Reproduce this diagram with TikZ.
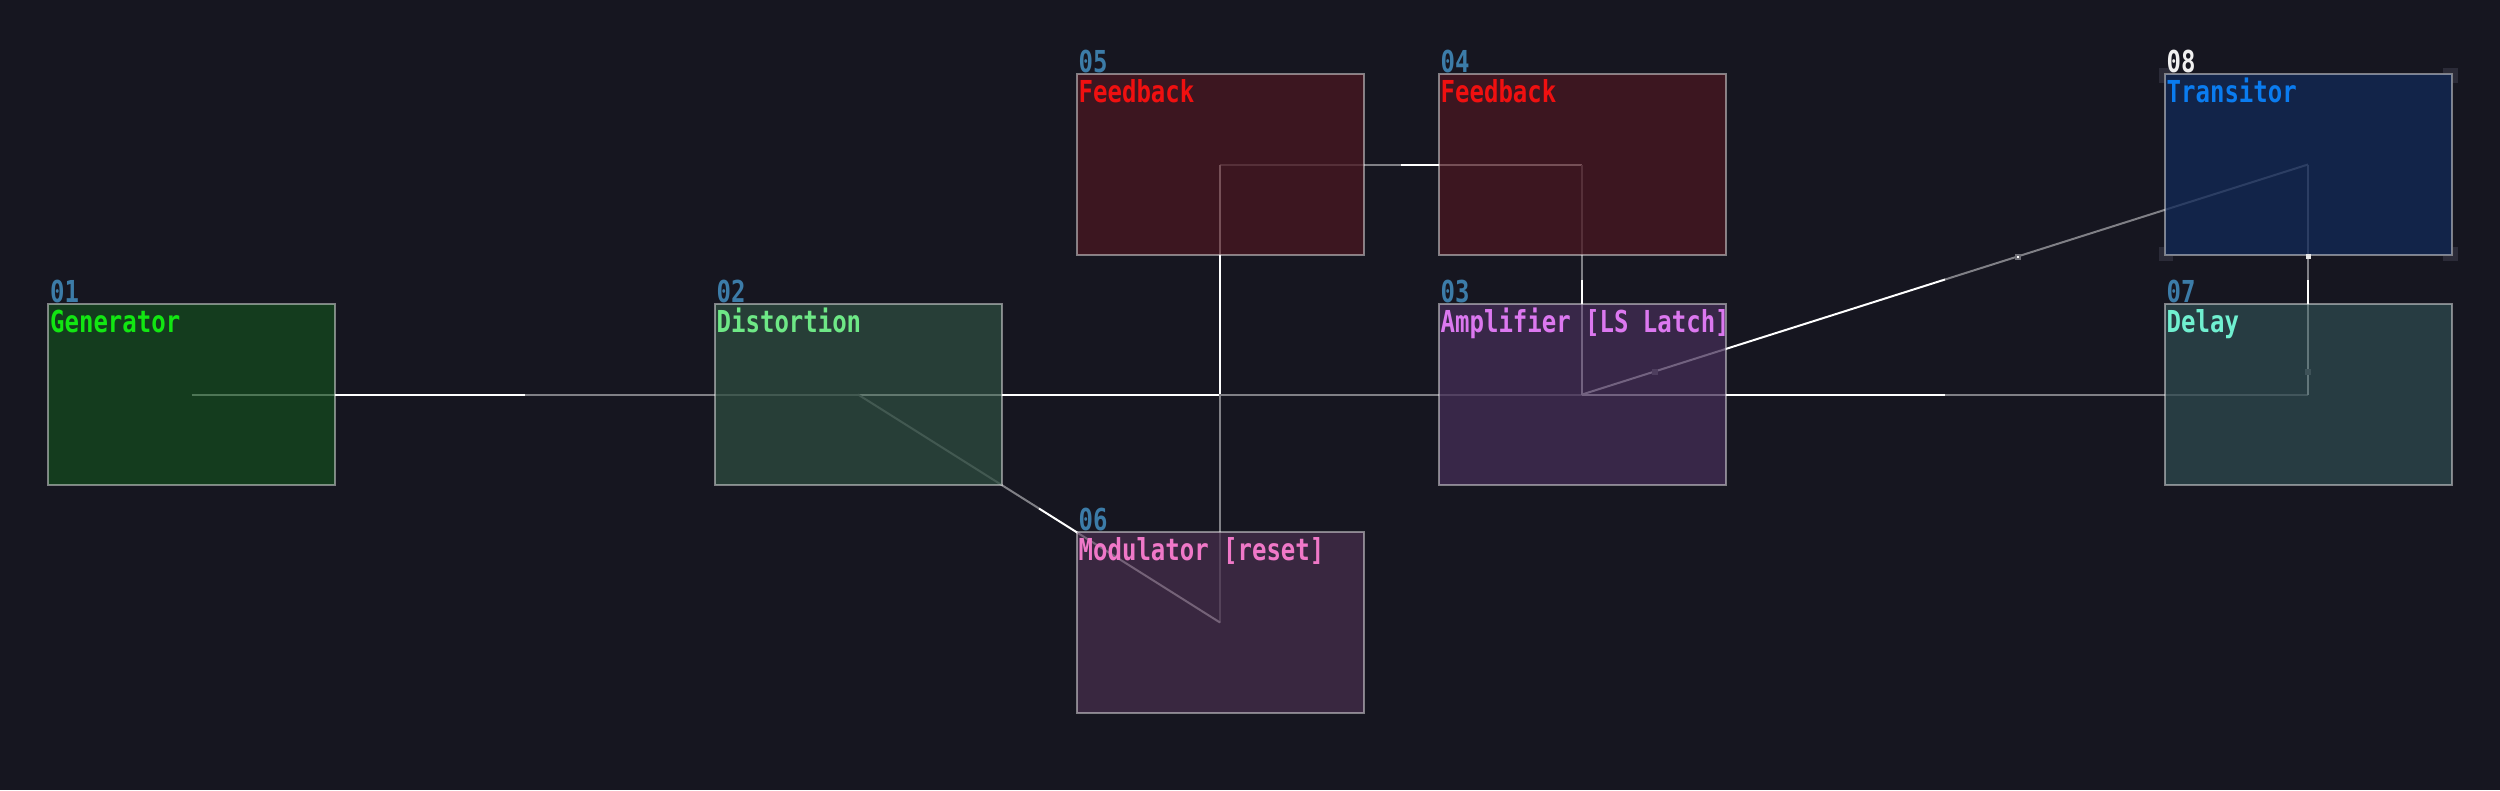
\documentclass[tikz,border=0pt]{standalone}
\usepackage{fontspec}
\usepackage{graphicx}
\setmonofont{DejaVu Sans Mono}
\usetikzlibrary{calc}
\pgfdeclarelayer{bg}
\pgfdeclarelayer{wires}
\pgfsetlayers{bg,wires,main}

\definecolor{bgc}{RGB}{22,22,32}
\definecolor{numc}{RGB}{60,124,168}
\definecolor{selc}{RGB}{240,240,240}
\definecolor{wirec}{RGB}{128,128,134}
\definecolor{brkc}{RGB}{43,43,56}
\definecolor{pktc}{RGB}{110,110,118}
% box fills (used with fill opacity 0.75)
\definecolor{f1}{RGB}{20,73,30}
\definecolor{f2}{RGB}{46,76,64}
\definecolor{f5}{RGB}{73,22,32}
\definecolor{f3}{RGB}{68,46,86}
\definecolor{f6}{RGB}{70,46,75}
\definecolor{f8}{RGB}{17,41,88}
\definecolor{f7}{RGB}{46,73,78}
% title colours
\definecolor{t1}{RGB}{18,230,18}
\definecolor{t2}{RGB}{110,232,134}
\definecolor{t5}{RGB}{240,16,16}
\definecolor{t3}{RGB}{220,120,240}
\definecolor{t6}{RGB}{240,120,200}
\definecolor{t8}{RGB}{10,124,240}
\definecolor{t7}{RGB}{112,240,208}

\newcommand\pixtext[1]{\scalebox{1}[1.26]{#1}}
\newcommand\sigwire[2]{%
  \path (#1.center) -- (#2.center) coordinate[pos=0.5] (m#1#2);
  \draw[coldwire] (m#1#2) -- (#2.center);
  \draw[hotwire] (#1.center) -- (m#1#2);}

\begin{document}
\begin{tikzpicture}[x=1pt,y=-1pt,
  box/.style={rectangle, inner sep=0pt, outer sep=0pt,
    minimum width=287pt, minimum height=181pt,
    fill opacity=0.75, draw=white, draw opacity=0.45, line width=2pt},
  title/.style={anchor=base west, inner sep=0pt, font=\ttfamily\bfseries\fontsize{24}{24}\selectfont},
  num/.style={title, text=numc},
  hotwire/.style={draw=white, line width=2pt},
  coldwire/.style={draw=wirec, line width=2pt},
  bracket/.style={draw=brkc, line width=5pt},
]
\begin{pgfonlayer}{bg}
  \fill[bgc] (0,0) rectangle (2500,790);
\end{pgfonlayer}
\useasboundingbox (0,0) rectangle (2500,790);

% boxes
\node[box, fill=f1] (b1) at (191.5,394.5) {};
\node[box, fill=f2] (b2) at (858,394.5) {};
\node[box, fill=f5] (b5) at (1220,164.5) {};
\node[box, fill=f5] (b4) at (1582,164.5) {};
\node[box, fill=f3] (b3) at (1582,394.5) {};
\node[box, fill=f6] (b6) at (1220,622.5) {};
\node[box, fill=f8] (b8) at (2308,164.5) {};
\node[box, fill=f7] (b7) at (2308,394.5) {};

% labels
\node[num] (n1) at ([shift={(2,-2)}]b1.north west) {\pixtext{01}};
\node[title, text=t1] (l1) at ([shift={(2,28)}]b1.north west) {\pixtext{Generator}};
\node[num] (n2) at ([shift={(2,-2)}]b2.north west) {\pixtext{02}};
\node[title, text=t2] (l2) at ([shift={(2,28)}]b2.north west) {\pixtext{Distortion}};
\node[num] (n5) at ([shift={(2,-2)}]b5.north west) {\pixtext{05}};
\node[title, text=t5] (l5) at ([shift={(2,28)}]b5.north west) {\pixtext{Feedback}};
\node[num] (n4) at ([shift={(2,-2)}]b4.north west) {\pixtext{04}};
\node[title, text=t5] (l4) at ([shift={(2,28)}]b4.north west) {\pixtext{Feedback}};
\node[num] (n3) at ([shift={(2,-2)}]b3.north west) {\pixtext{03}};
\node[title, text=t3] (l3) at ([shift={(2,28)}]b3.north west) {\pixtext{Amplifier [LS Latch]}};
\node[num] (n6) at ([shift={(2,-2)}]b6.north west) {\pixtext{06}};
\node[title, text=t6] (l6) at ([shift={(2,28)}]b6.north west) {\pixtext{Modulator [reset]}};
\node[num, text=selc] (n8) at ([shift={(2,-2)}]b8.north west) {\pixtext{08}};
\node[title, text=t8] (l8) at ([shift={(2,28)}]b8.north west) {\pixtext{Transitor}};
\node[num] (n7) at ([shift={(2,-2)}]b7.north west) {\pixtext{07}};
\node[title, text=t7] (l7) at ([shift={(2,28)}]b7.north west) {\pixtext{Delay}};

\begin{pgfonlayer}{wires}
  \sigwire{b1}{b2}
  \sigwire{b2}{b3}
  \sigwire{b3}{b7}
  \sigwire{b3}{b8}
  \sigwire{b7}{b8}
  \sigwire{b4}{b5}
  \sigwire{b3}{b4}
  \sigwire{b5}{b6}
  \sigwire{b6}{b2}
  % packets
  \path (b3.center) -- (b8.center) coordinate[pos=0.1] (p38a) coordinate[pos=0.6] (p38b);
  \path (b7.center) -- (b8.center) coordinate[pos=0.1] (p78a) coordinate[pos=0.6] (p78b);
  \fill[pktc] ($(p38a)+(-3,-3)$) rectangle ($(p38a)+(3,3)$);
  \fill[pktc] ($(p78a)+(-3,-3)$) rectangle ($(p78a)+(3,3)$);
  \fill[pktc] ($(p38b)+(-3,-3)$) rectangle ($(p38b)+(3,3)$);
  \fill[white] ($(p38b)+(-1,-1)$) rectangle ($(p38b)+(1,1)$);
  % selection brackets on 08
  \draw[bracket] ([shift={(-3.5,8.5)}]b8.north west) -- ([shift={(-3.5,-3.5)}]b8.north west) -- ([shift={(8.5,-3.5)}]b8.north west);
  \draw[bracket] ([shift={(3.5,8.5)}]b8.north east) -- ([shift={(3.5,-3.5)}]b8.north east) -- ([shift={(-8.5,-3.5)}]b8.north east);
  \draw[bracket] ([shift={(-3.5,-8.5)}]b8.south west) -- ([shift={(-3.5,3.5)}]b8.south west) -- ([shift={(8.5,3.5)}]b8.south west);
  \draw[bracket] ([shift={(3.5,-8.5)}]b8.south east) -- ([shift={(3.5,3.5)}]b8.south east) -- ([shift={(-8.5,3.5)}]b8.south east);
\end{pgfonlayer}
\fill[white!80!gray] ($(p78b)+(-2.5,-2.5)$) rectangle ($(p78b)+(2.5,2.5)$);
\end{tikzpicture}
\end{document}
